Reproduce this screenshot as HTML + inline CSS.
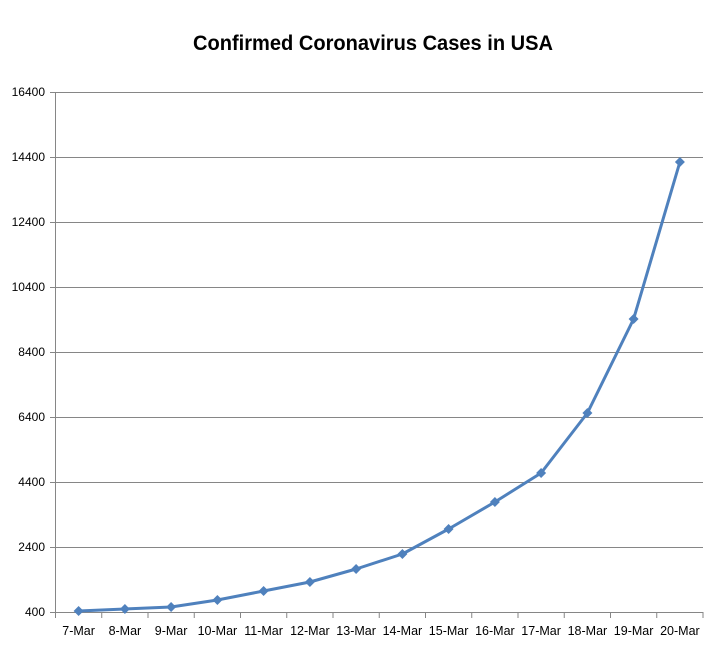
<!DOCTYPE html>
<html><head><style>
body{margin:0;background:#fff;}
svg{display:block;}
text{font-family:"Liberation Sans",sans-serif;fill:#000;}
</style></head><body>
<svg width="722" height="662" xmlns="http://www.w3.org/2000/svg">
<text x="373" y="50" text-anchor="middle" font-size="21" font-weight="bold" textLength="360" lengthAdjust="spacingAndGlyphs">Confirmed Coronavirus Cases in USA</text>
<g stroke="#868686" stroke-width="1">
<line x1="50" y1="92.5" x2="703" y2="92.5"/>
<line x1="50" y1="157.5" x2="703" y2="157.5"/>
<line x1="50" y1="222.5" x2="703" y2="222.5"/>
<line x1="50" y1="287.5" x2="703" y2="287.5"/>
<line x1="50" y1="352.5" x2="703" y2="352.5"/>
<line x1="50" y1="417.5" x2="703" y2="417.5"/>
<line x1="50" y1="482.5" x2="703" y2="482.5"/>
<line x1="50" y1="547.5" x2="703" y2="547.5"/>
<line x1="50" y1="612.5" x2="703" y2="612.5"/>
<line x1="55.5" y1="92" x2="55.5" y2="612"/>
</g>
<g stroke="#868686" stroke-width="1">
<line x1="55.5" y1="612" x2="55.5" y2="618"/><line x1="101.75" y1="612" x2="101.75" y2="618"/><line x1="148" y1="612" x2="148" y2="618"/><line x1="194.25" y1="612" x2="194.25" y2="618"/><line x1="240.5" y1="612" x2="240.5" y2="618"/><line x1="286.75" y1="612" x2="286.75" y2="618"/><line x1="333" y1="612" x2="333" y2="618"/><line x1="379.25" y1="612" x2="379.25" y2="618"/><line x1="425.5" y1="612" x2="425.5" y2="618"/><line x1="471.75" y1="612" x2="471.75" y2="618"/><line x1="518" y1="612" x2="518" y2="618"/><line x1="564.25" y1="612" x2="564.25" y2="618"/><line x1="610.5" y1="612" x2="610.5" y2="618"/><line x1="656.75" y1="612" x2="656.75" y2="618"/><line x1="703" y1="612" x2="703" y2="618"/>
</g>
<g font-size="12" text-anchor="end">
<text x="45" y="96">16400</text><text x="45" y="161">14400</text><text x="45" y="226">12400</text><text x="45" y="291">10400</text><text x="45" y="356">8400</text><text x="45" y="421">6400</text><text x="45" y="486">4400</text><text x="45" y="551">2400</text><text x="45" y="616">400</text>
</g>
<g font-size="12.5" text-anchor="middle">
<text x="78.6" y="635">7-Mar</text><text x="124.9" y="635">8-Mar</text><text x="171.1" y="635">9-Mar</text><text x="217.4" y="635">10-Mar</text><text x="263.6" y="635">11-Mar</text><text x="309.9" y="635">12-Mar</text><text x="356.1" y="635">13-Mar</text><text x="402.4" y="635">14-Mar</text><text x="448.6" y="635">15-Mar</text><text x="494.9" y="635">16-Mar</text><text x="541.1" y="635">17-Mar</text><text x="587.4" y="635">18-Mar</text><text x="633.6" y="635">19-Mar</text><text x="679.9" y="635">20-Mar</text>
</g>
<polyline fill="none" stroke="#4f81bd" stroke-width="3" stroke-linejoin="round" points="78.6,611 124.9,609 171.1,607 217.4,600 263.6,591 309.9,582 356.1,569 402.4,554 448.6,529 494.9,502 541.1,473 587.4,413 633.6,319 679.9,162"/>
<g fill="#4f81bd">
<path d="M78.6,606l5,5-5,5-5-5z"/><path d="M124.9,604l5,5-5,5-5-5z"/><path d="M171.1,602l5,5-5,5-5-5z"/><path d="M217.4,595l5,5-5,5-5-5z"/><path d="M263.6,586l5,5-5,5-5-5z"/><path d="M309.9,577l5,5-5,5-5-5z"/><path d="M356.1,564l5,5-5,5-5-5z"/><path d="M402.4,549l5,5-5,5-5-5z"/><path d="M448.6,524l5,5-5,5-5-5z"/><path d="M494.9,497l5,5-5,5-5-5z"/><path d="M541.1,468l5,5-5,5-5-5z"/><path d="M587.4,408l5,5-5,5-5-5z"/><path d="M633.6,314l5,5-5,5-5-5z"/><path d="M679.9,157l5,5-5,5-5-5z"/>
</g>
</svg>
</body></html>
